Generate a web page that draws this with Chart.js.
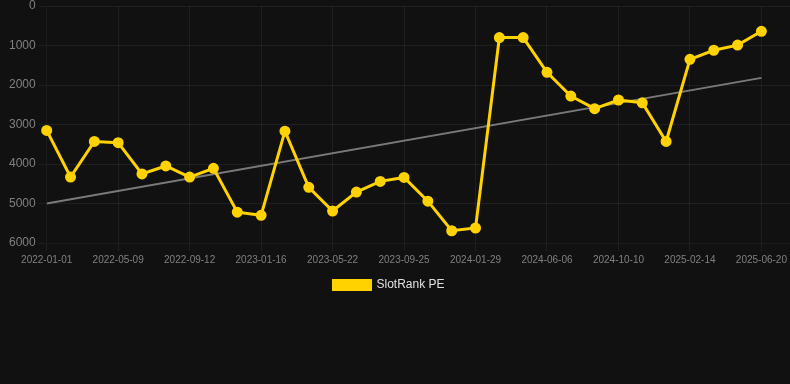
<!DOCTYPE html>
<html>
<head>
  <script src="https://cdn.jsdelivr.net/npm/chart.js@4.4.0/dist/chart.umd.min.js"></script>
  <style>
    html, body { margin: 0; padding: 0; background: #111111; }
    .wrap { width: 790px; height: 301px; }
  </style>
</head>
<body>
  <div class="wrap"><canvas id="rankChart"></canvas></div>

  <script>
    // dates for each point (one every ~6 weeks)
    const dates = [
      '2022-01-01', '2022-02-12', '2022-03-26', '2022-05-09', '2022-06-20', '2022-08-01',
      '2022-09-12', '2022-10-24', '2022-12-05', '2023-01-16', '2023-02-27', '2023-04-10',
      '2023-05-22', '2023-07-03', '2023-08-14', '2023-09-25', '2023-11-06', '2023-12-18',
      '2024-01-29', '2024-03-12', '2024-04-24', '2024-06-06', '2024-07-18', '2024-08-29',
      '2024-10-10', '2024-11-21', '2025-01-02', '2025-02-14', '2025-03-28', '2025-05-09',
      '2025-06-20'
    ];
    const rankPE = [
      3150, 4330, 3430, 3460, 4250, 4050, 4330, 4110, 5220, 5300, 3170, 4590,
      5190, 4710, 4440, 4340, 4940, 5690, 5620, 800, 800, 1680, 2280, 2600,
      2380, 2450, 3430, 1350, 1120, 990, 640
    ];
    const trendEnds = [5000, 1820];
    const yTicks = [0, 1000, 2000, 3000, 4000, 5000, 6000];

    const rankPoints = rankPE.map((v, i) => ({ x: i, y: v }));
    const trendPoints = [
      { x: 0, y: trendEnds[0] },
      { x: dates.length - 1, y: trendEnds[1] }
    ];

    // nudge the legend a little left, like the original
    const legendShift = {
      id: 'legendShift',
      afterLayout(chart) {
        chart.legend.left -= 9;
        chart.legend.right -= 9;
      }
    };

    new Chart(document.getElementById('rankChart'), {
      type: 'line',
      data: {
        datasets: [{
          label: 'SlotRank PE',
          data: rankPoints,
          borderColor: '#FFD200',
          backgroundColor: '#FFD200',
          borderWidth: 3,
          pointRadius: 4,
          pointHoverRadius: 5,
          tension: 0,
          clip: false
        }, {
          label: 'trend',
          data: trendPoints,
          borderColor: 'rgba(140,140,140,0.85)',
          borderWidth: 2,
          pointRadius: 0,
          tension: 0
        }]
      },
      options: {
        responsive: true,
        maintainAspectRatio: false,
        animation: false,
        layout: { autoPadding: false, padding: { left: 6 } },
        scales: {
          x: {
            type: 'linear',
            min: 0,
            max: 31.2,
            afterFit: s => { s.paddingRight = 0; },
            grid: { color: 'rgba(255,255,255,0.06)' },
            ticks: {
              stepSize: 3,
              includeBounds: false,
              maxRotation: 0,
              color: '#808080',
              font: { family: 'Liberation Sans, Arial, sans-serif', size: 10 },
              callback: v => dates[v] || ''
            }
          },
          y: {
            reverse: true,
            min: yTicks[0],
            max: yTicks[yTicks.length - 1],
            afterFit: s => { s.paddingTop = 6; },
            grid: { color: 'rgba(255,255,255,0.06)' },
            ticks: {
              stepSize: 1000,
              color: '#808080',
              font: { family: 'Liberation Sans, Arial, sans-serif', size: 12 },
              callback: v => String(v)
            }
          }
        },
        plugins: {
          legend: {
            position: 'bottom',
            labels: {
              color: '#e0e0e0',
              boxWidth: 37,
              boxHeight: 9,
              font: { family: 'Liberation Sans, Arial, sans-serif', size: 12 },
              filter: item => item.text !== 'trend'
            }
          },
          tooltip: { enabled: false }
        }
      },
      plugins: [legendShift]
    });
  </script>
</body>
</html>
